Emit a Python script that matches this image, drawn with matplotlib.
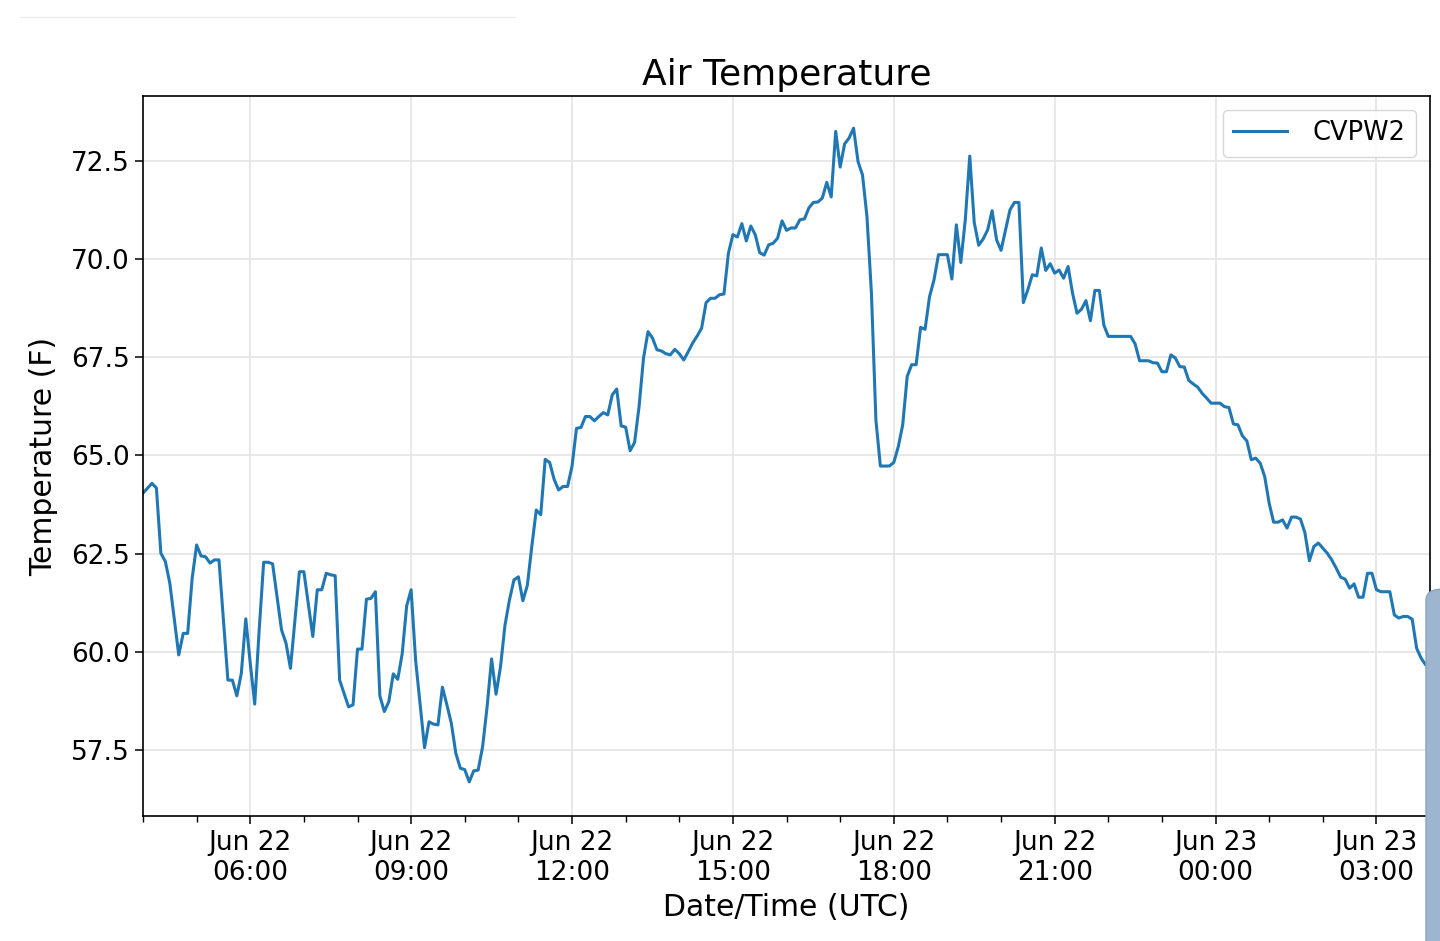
import numpy as np
import matplotlib
matplotlib.use("Agg")
import matplotlib.pyplot as plt
import matplotlib.dates as mdates
from matplotlib.patches import FancyBboxPatch
from matplotlib.lines import Line2D

# ------------------------------------------
# Data: air temperature at station CVPW2
# minutes after Jun 22 04:00 UTC, temperature (F)
# ------------------------------------------
station = "CVPW2"
start_time = np.datetime64("2019-06-22T04:00")

minutes = [
    0, 10, 15, 20, 25, 30, 40, 45, 50, 55, 60, 65, 70, 75, 80, 85, 95, 100,
    105, 110, 115, 120, 125, 130, 135, 140, 145, 155, 160, 165, 175, 180,
    190, 195, 200, 205, 210, 215, 220, 230, 235, 240, 245, 250, 255, 260,
    265, 270, 275, 280, 285, 290, 295, 300, 305, 315, 320, 325, 330, 335,
    340, 345, 350, 355, 360, 365, 370, 375, 380, 385, 390, 395, 400, 405,
    410, 415, 420, 425, 430, 435, 440, 445, 450, 455, 460, 465, 470, 475,
    480, 485, 490, 495, 500, 505, 510, 515, 520, 525, 530, 535, 540, 545,
    550, 555, 560, 565, 570, 575, 580, 585, 590, 595, 600, 605, 610, 615,
    620, 625, 630, 635, 640, 645, 650, 655, 660, 665, 670, 675, 680, 685,
    690, 695, 700, 705, 710, 715, 720, 725, 730, 735, 740, 745, 750, 755,
    760, 765, 770, 775, 780, 785, 790, 795, 800, 805, 810, 815, 820, 825,
    830, 835, 840, 845, 850, 855, 860, 865, 870, 875, 880, 885, 890, 895,
    900, 905, 910, 915, 920, 925, 930, 935, 940, 945, 950, 955, 960, 965,
    970, 975, 980, 985, 990, 995, 1000, 1005, 1010, 1015, 1020, 1025, 1030,
    1035, 1040, 1045, 1050, 1055, 1060, 1065, 1070, 1075, 1080, 1105, 1110,
    1115, 1125, 1130, 1135, 1140, 1145, 1150, 1155, 1160, 1165, 1170, 1175,
    1180, 1185, 1190, 1195, 1205, 1210, 1215, 1220, 1225, 1230, 1235, 1240,
    1245, 1250, 1255, 1260, 1265, 1270, 1275, 1280, 1285, 1290, 1295, 1300,
    1305, 1310, 1315, 1320, 1325, 1330, 1335, 1340, 1345, 1350, 1355, 1360,
    1365, 1370, 1375, 1380, 1385, 1395, 1400, 1405, 1410, 1415, 1420, 1425,
    1430, 1435, 1440,
]

temps = [
    64.04, 64.29, 64.17, 62.51, 62.30, 61.75, 59.92, 60.47, 60.47, 61.87,
    62.72, 62.44, 62.42, 62.26, 62.34, 62.34, 59.28, 59.28, 58.88, 59.45,
    60.84, 59.71, 58.67, 60.56, 62.28, 62.28, 62.24, 60.56, 60.22, 59.58,
    62.04, 62.04, 60.39, 61.58, 61.58, 62.00, 61.96, 61.94, 59.28, 58.60,
    58.65, 60.07, 60.07, 61.34, 61.36, 61.53, 58.88, 58.48, 58.73, 59.44,
    59.30, 59.95, 61.17, 61.58, 59.79, 57.56, 58.22, 58.16, 58.14, 59.10,
    58.65, 58.18, 57.42, 57.04, 57.00, 56.69, 56.97, 56.99, 57.59, 58.60,
    59.82, 58.92, 59.62, 60.68, 61.32, 61.83, 61.91, 61.30, 61.69, 62.68,
    63.61, 63.49, 64.90, 64.82, 64.39, 64.12, 64.21, 64.21, 64.72, 65.69,
    65.71, 65.99, 65.99, 65.88, 65.99, 66.09, 66.03, 66.54, 66.69, 65.75,
    65.72, 65.12, 65.33, 66.24, 67.48, 68.15, 67.99, 67.69, 67.66, 67.59,
    67.56, 67.70, 67.59, 67.43, 67.64, 67.86, 68.04, 68.24, 68.89, 69.00,
    69.00, 69.09, 69.11, 70.15, 70.62, 70.56, 70.90, 70.46, 70.84, 70.62,
    70.16, 70.10, 70.36, 70.40, 70.53, 70.97, 70.73, 70.79, 70.79, 71.00,
    71.02, 71.30, 71.44, 71.45, 71.55, 71.95, 71.58, 73.25, 72.34, 72.93,
    73.08, 73.33, 72.48, 72.14, 71.08, 69.13, 65.90, 64.73, 64.73, 64.73,
    64.82, 65.22, 65.78, 67.01, 67.31, 67.31, 68.26, 68.21, 69.04, 69.47,
    70.11, 70.11, 70.11, 69.49, 70.87, 69.91, 71.00, 72.62, 70.93, 70.35,
    70.51, 70.74, 71.23, 70.49, 70.22, 70.74, 71.25, 71.44, 71.44, 68.89,
    69.22, 69.60, 69.57, 70.28, 69.71, 69.88, 69.64, 69.72, 69.51, 69.81,
    69.13, 68.62, 68.72, 68.94, 68.43, 69.20, 69.20, 68.32, 68.03, 68.03,
    67.84, 67.41, 67.41, 67.36, 67.35, 67.13, 67.13, 67.56, 67.48, 67.26,
    67.25, 66.91, 66.82, 66.74, 66.58, 66.46, 66.33, 66.33, 66.24, 66.22,
    65.80, 65.78, 65.50, 65.37, 64.89, 64.93, 64.80, 64.46, 63.78, 63.30,
    63.30, 63.36, 63.15, 63.43, 63.43, 63.38, 63.03, 62.32, 62.68, 62.77,
    62.64, 62.51, 62.34, 62.13, 61.90, 61.85, 61.62, 61.73, 61.39, 61.39,
    62.00, 62.00, 61.58, 61.53, 61.53, 60.94, 60.86, 60.90, 60.90, 60.83,
    60.09, 59.84, 59.67, 59.73,
]

y_ticks = [57.5, 60.0, 62.5, 65.0, 67.5, 70.0, 72.5]

times = start_time + np.array(minutes).astype("timedelta64[m]")
times = times.astype("datetime64[ms]").astype(object)

# ------------------------------------------
# Plot
# ------------------------------------------
fig = plt.figure(figsize=(14.4, 9.41), dpi=100)
ax = fig.add_axes([0.0993, 0.1328, 0.8938, 0.7652])

ax.plot(times, temps, color="#1f77b4", linewidth=2.2, label=station)

ax.set_xlim(times[0], times[-1])
ax.set_ylim(55.82, 74.15)
ax.set_yticks(y_ticks)
ax.set_yticklabels([f"{v:.1f}" for v in y_ticks])

ax.xaxis.set_major_locator(mdates.HourLocator(byhour=range(0, 24, 3)))
ax.xaxis.set_minor_locator(mdates.HourLocator())
ax.xaxis.set_major_formatter(mdates.DateFormatter("%b %d\n%H:%M"))

ax.tick_params(axis="both", which="major", labelsize=19, length=6, width=1.1)
ax.tick_params(axis="x", which="major", pad=4)
ax.tick_params(axis="x", which="minor", length=4, width=1.0)
for lab in ax.get_xticklabels():
    lab.set_horizontalalignment("center")
    lab.set_linespacing(1.22)

ax.grid(True, which="major", color="#e6e6e6", linewidth=1.3)
ax.set_axisbelow(True)
for sp in ax.spines.values():
    sp.set_linewidth(1.2)

ax.set_title("Air Temperature", fontsize=26, pad=8)
ax.set_xlabel("Date/Time (UTC)", fontsize=21.5, labelpad=5)
ax.set_ylabel("Temperature (F)", fontsize=21.5, labelpad=9)

leg = ax.legend(loc="upper right", fontsize=18.5, handlelength=2.1,
                borderpad=0.4, handletextpad=1.0, fancybox=True,
                framealpha=0.8, borderaxespad=0.55)
leg.get_frame().set_edgecolor("#cccccc")

# screenshot remnants: faint top rule and a scroll handle at the right edge
fig.add_artist(Line2D([20 / 1440, 515 / 1440], [1 - 17 / 941, 1 - 17 / 941],
                      transform=fig.transFigure, color="#ececec", linewidth=1))
fig.add_artist(FancyBboxPatch((1426 / 1440, -0.02), 0.03, 0.394,
                              boxstyle="round,pad=0,rounding_size=0.012",
                              transform=fig.transFigure, facecolor="#9db5cf",
                              edgecolor="#8aa3bf", linewidth=1))

fig.savefig("out.png", dpi=100)
